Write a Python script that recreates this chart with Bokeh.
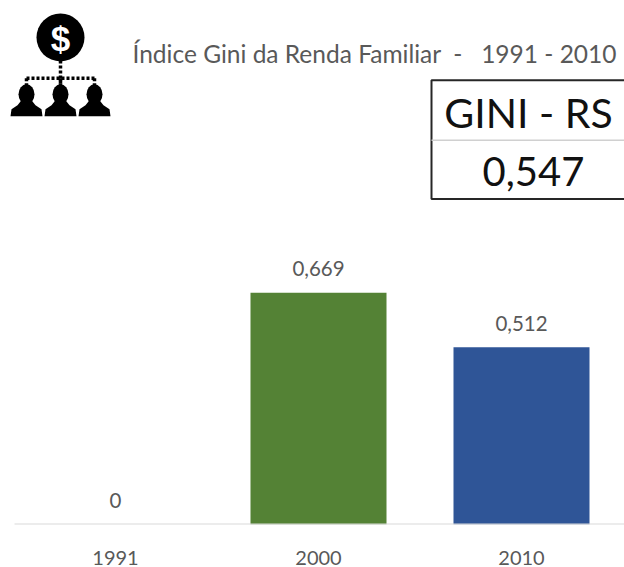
from bokeh.plotting import figure
from bokeh.models import Range1d, FixedTicker
from bokeh.core.properties import value
from bokeh.embed import file_html
from bokeh.resources import INLINE

years = ["1991", "2000", "2010"]
gini = [0, 0.669, 0.512]
gini_labels = ["0", "0,669", "0,512"]
bar_colors = ["#548235", "#548235", "#2F5597"]
title_text = "Índice Gini da Renda Familiar\u00a0\u00a0-\u00a0\u00a0\u00a01991 - 2010"
box_title = "GINI - RS"
box_value = "0,547"

FONT = value("Lato")
positions = list(range(len(years)))

p = figure(width=624, height=567, output_backend="svg", toolbar_location=None,
           x_range=Range1d(-115 / 203, 509 / 203), y_range=Range1d(0, 525 / 347),
           min_border_left=0, min_border_right=0, min_border_top=0, min_border_bottom=42,
           outline_line_color=None, background_fill_color="white", border_fill_color="white")
p.grid.visible = False
p.yaxis.visible = False
ax = p.xaxis[0]
ax.ticker = FixedTicker(ticks=positions)
ax.major_label_overrides = dict(zip(positions, years))
ax.major_tick_line_color = None
ax.minor_tick_line_color = None
ax.axis_line_color = None
ax.major_label_text_color = "#595959"
ax.major_label_text_font = "Lato"
ax.major_label_text_font_size = "20px"
ax.major_label_standoff = 20

# page-pixel overlay range for the header, icon and table
p.extra_x_ranges["px"] = Range1d(0, 624)
p.extra_y_ranges["px"] = Range1d(525, 0)
PX = dict(x_range_name="px", y_range_name="px")

p.vbar(x=positions, top=gini, width=0.67, color=bar_colors, line_color=None)
p.segment([14], [525], [624], [525], line_color="#D9D9D9", line_width=2, **PX)
p.text(x=positions, y=gini, text=gini_labels, text_font=FONT, text_font_size="20.5px",
       text_color="#595959", text_align="center", text_baseline="middle", y_offset=-24)

# header
p.text([132], [53], text=[title_text], text_font=FONT, text_font_size="24.5px",
       text_color="#595959", text_align="left", text_baseline="middle", **PX)

# table
p.quad(left=[431], right=[640], top=[80], bottom=[199], fill_color="white",
       line_color="#262626", line_width=2, **PX)
p.segment([431], [140], [624], [140], line_color="#D0D0D0", line_width=1.5, **PX)
p.text([528], [112], text=[box_title], text_font=FONT, text_font_size="41px",
       text_color="#111111", text_align="center", text_baseline="middle", **PX)
p.text([533], [171], text=[box_value], text_font=FONT, text_font_size="40px",
       text_color="#111111", text_align="center", text_baseline="middle", **PX)

# icon
p.scatter([60], [37], size=48, color="black", line_color=None, **PX)
p.text([60], [38], text=["$"], text_font=value("Liberation Sans"), text_font_style="bold",
       text_font_size="35px", text_color="white", text_align="center", text_baseline="middle", **PX)
p.segment([60, 26, 60, 94, 26], [60, 78, 78, 78, 78], [60, 26, 60, 94, 94], [92, 90, 90, 90, 78],
          line_color="black", line_width=3.5, line_dash="3 2", **PX)
for cx in (26, 60, 94):
    p.ellipse([cx], [94], width=16, height=20, color="black", line_color=None, **PX)
    p.patch([cx - 16, cx - 15, cx - 9, cx - 5, cx + 5, cx + 9, cx + 15, cx + 16],
            [116, 109, 105, 100, 100, 105, 109, 116], color="black", line_color=None, **PX)

open("out.html", "w").write(file_html(p, INLINE))
